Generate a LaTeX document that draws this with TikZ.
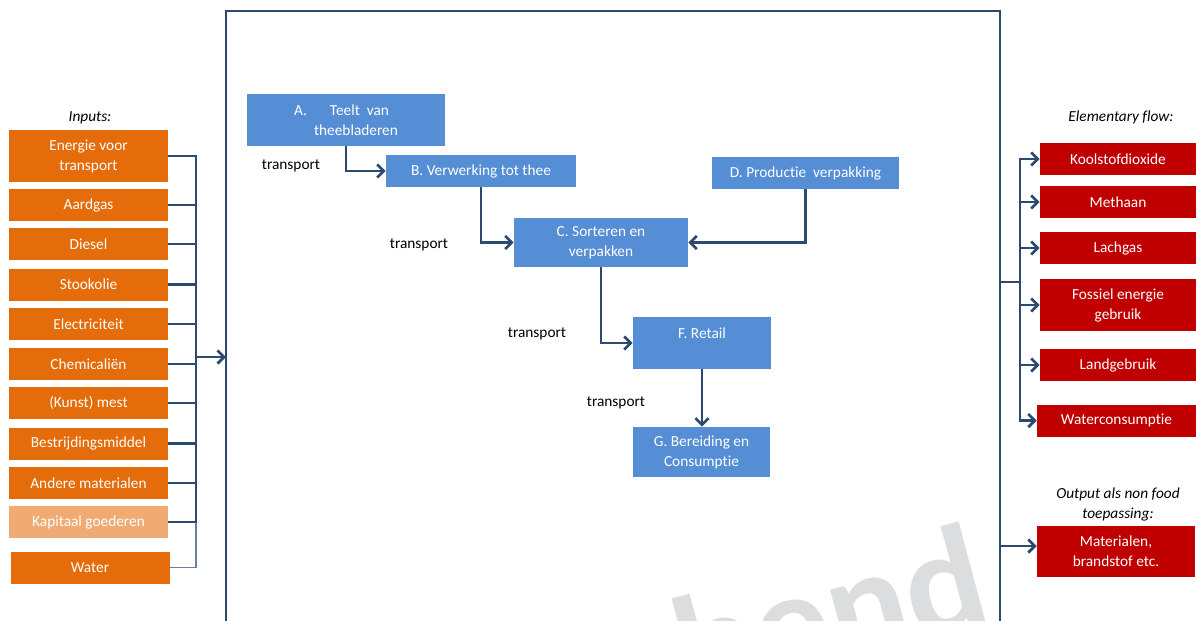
\documentclass[tikz,border=0pt]{standalone}
\usepackage{fontspec}
\setmainfont{Carlito}[Ligatures=NoCommon]
\usetikzlibrary{arrows.meta}
\definecolor{inputorange}{HTML}{E46C0A}
\definecolor{capitalorange}{HTML}{F0AB74}
\definecolor{stepblue}{HTML}{558ED5}
\definecolor{flowred}{HTML}{C00000}
\definecolor{linknavy}{HTML}{2C4A70}
\definecolor{markgray}{HTML}{DCDDDF}
\begin{document}
\begin{tikzpicture}[x=0.75pt, y=-0.75pt,
    every node/.style={font=\fontsize{11.5}{15}\selectfont},
    inbox/.style={fill=inputorange, text=white, inner sep=0pt, align=center, minimum width=119.25pt, minimum height=24pt},
    stepbox/.style={fill=stepblue, text=white, inner sep=0pt, align=center, minimum height=24pt},
    outbox/.style={fill=flowred, text=white, inner sep=0pt, align=center, minimum width=117pt, minimum height=24pt},
    caption/.style={font=\fontsize{11.5}{15}\selectfont\itshape},
    link/.style={draw=linknavy, line width=2pt},
    flowarrow/.style={link, -{Straight Barb[length=5pt, width=10pt]}}]
  \useasboundingbox (0,0) rectangle (1196,621);
  \clip (0,0) rectangle (1196,621);
  % watermark
  \node[text=markgray, font=\fontsize{112}{112}\selectfont\bfseries, rotate=15, anchor=base west, inner sep=0pt] (mark) at (690,703) {bend};
  % system boundary
  \draw[link, line width=1.6pt] (226,660) -- (226,11) -- (1000,11) -- (1000,660);
  \coordinate (inL) at (226,357);
  \coordinate (busL) at (196,357);
  \coordinate (outR) at (1000,282);
  \coordinate (busR) at (1020,282);
  \coordinate (nonfoodR) at (1000,546);
  % inputs
  \node[caption] (inputs) at (90,118) {Inputs:};
  \node[inbox, minimum height=39pt] (energie) at (88.5,156) {Energie voor\\transport};
  \node[inbox] (aardgas) at (88.5,205) {Aardgas};
  \node[inbox] (diesel) at (88.5,244) {Diesel};
  \node[inbox] (stookolie) at (88.5,284.5) {Stookolie};
  \node[inbox] (electra) at (88.5,324) {Electriciteit};
  \node[inbox] (chemie) at (88.5,364) {Chemicaliën};
  \node[inbox] (mest) at (88.5,403) {(Kunst) mest};
  \node[inbox] (bestrijding) at (88.5,443.5) {Bestrijdingsmiddel};
  \node[inbox] (andere) at (88.5,483) {Andere materialen};
  \node[inbox, fill=capitalorange] (kapitaal) at (88.5,522) {Kapitaal goederen};
  \node[inbox] (water) at (90,567.5) {Water};
  \draw[draw=linknavy!70, line width=0.8pt] (water.east) -| (busL);
  \draw[link] (energie.east) -| (busL);
  \draw[link] (aardgas.east) -| (busL);
  \draw[link] (diesel.east) -| (busL);
  \draw[link] (stookolie.east) -| (busL);
  \draw[link] (electra.east) -| (busL);
  \draw[link] (chemie.east) -| (busL);
  \draw[link] (mest.east) -| (busL);
  \draw[link] (bestrijding.east) -| (busL);
  \draw[link] (andere.east) -| (busL);
  \draw[link] (kapitaal.east) -| (busL);
  \draw[flowarrow] (busL) -- (inL);
  % chain
  \node[stepbox, minimum width=148.5pt, minimum height=39pt, align=left] (teelt) at (346,120) {A.\hspace{1.5em}Teelt\ \ van\\\hspace*{1.3em}theebladeren};
  \node[stepbox, minimum width=142.5pt] (verwerking) at (481,171) {B. Verwerking tot thee};
  \node[stepbox, minimum width=130.5pt, minimum height=36.75pt] (sorteren) at (601,242.5) {C. Sorteren en\\verpakken};
  \node[stepbox, minimum width=140.25pt] (verpakking) at (805.5,173) {D. Productie\ \ verpakking};
  \node[stepbox, minimum width=103.5pt, minimum height=39pt] (retail) at (702,343) {F. Retail\\\mbox{}};
  \node[stepbox, minimum width=102.75pt, minimum height=37.5pt] (bereiding) at (701.5,452) {G. Bereiding en\\Consumptie};
  \node (transportA) at (291,166) {transport};
  \node (transportB) at (419,245) {transport};
  \node (transportC) at (537,334) {transport};
  \node (transportF) at (616,403) {transport};
  \draw[flowarrow] (teelt.south) |- (verwerking.west);
  \draw[flowarrow] (verwerking.south) |- (sorteren.west);
  \draw[flowarrow] (verpakking.south) |- (sorteren.east);
  \draw[flowarrow] (sorteren.south) |- (retail.west);
  \draw[flowarrow] (retail.south) -- (bereiding.north -| retail.south);
  % elementary flows
  \node[caption] (elementary) at (1121,117) {Elementary flow:};
  \node[outbox] (kool) at (1118,159) {Koolstofdioxide};
  \node[outbox] (methaan) at (1118,202) {Methaan};
  \node[outbox] (lachgas) at (1118,248) {Lachgas};
  \node[outbox, minimum height=39pt] (fossiel) at (1118,305) {Fossiel energie\\gebruik};
  \node[outbox] (land) at (1118,365) {Landgebruik};
  \node[outbox, minimum width=119.25pt] (waterc) at (1116.5,420.5) {Waterconsumptie};
  \draw[link] (outR) -- (busR);
  \draw[flowarrow] (busR) |- (kool.west);
  \draw[flowarrow] (busR) |- (methaan.west);
  \draw[flowarrow] (busR) |- (lachgas.west);
  \draw[flowarrow] (busR) |- (fossiel.west);
  \draw[flowarrow] (busR) |- (land.west);
  \draw[flowarrow] (busR) |- (waterc.west);
  % non food output
  \node[caption, align=center] (nonfood) at (1118,504) {Output als non food\\toepassing:};
  \node[outbox, minimum width=118.5pt, minimum height=38.25pt] (materialen) at (1116,551.5) {Materialen,\\brandstof etc.};
  \draw[flowarrow] (nonfoodR) -- (nonfoodR -| materialen.west);
\end{tikzpicture}
\end{document}
